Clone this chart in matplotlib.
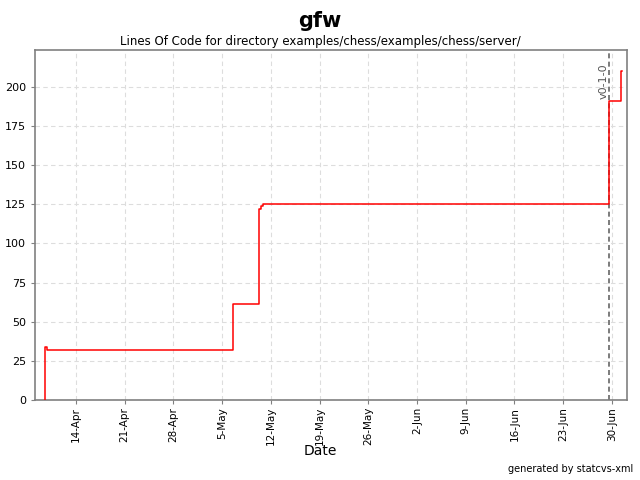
import matplotlib
matplotlib.use("Agg")
import matplotlib.pyplot as plt
from datetime import datetime, timedelta

dates = ["2003-04-09 13:00", "2003-04-09 20:00", "2003-05-06 12:00",
         "2003-05-10 07:00", "2003-05-10 14:00", "2003-05-10 20:00",
         "2003-06-29 14:00", "2003-07-01 08:00", "2003-07-01 12:00"]
loc = [34, 32, 61, 122, 124, 125, 191, 210, 210]
tag_name = "v0-1-0"
tag_date = "2003-06-29 14:00"

x = [datetime.strptime(d, "%Y-%m-%d %H:%M") for d in dates]

fig = plt.figure(figsize=(6.4, 4.8), dpi=100)
ax = fig.add_axes([0.0547, 0.1667, 0.9250, 0.7292])

ax.step([x[0]] + x, [0] + loc, where="post", color="red", lw=1.1, zorder=3)

tx = datetime.strptime(tag_date, "%Y-%m-%d %H:%M")
ax.axvline(tx, color="#666666", ls=(0, (3, 2)), lw=1.2, zorder=2)
ax.text(tx, 215, tag_name, rotation=90, ha="right", va="top", fontsize=8,
        color="#555555")

ax.set_xlim(datetime(2003, 4, 8, 3), datetime(2003, 7, 2, 4))
ax.set_ylim(0, 223.6)
ax.set_yticks([0, 25, 50, 75, 100, 125, 150, 175, 200])
ticks = [datetime(2003, 4, 14) + timedelta(days=7 * i) for i in range(12)]
ax.set_xticks(ticks)
ax.set_xticklabels([f"{t.day}-{t.strftime('%b')}" for t in ticks], rotation=90)

ax.grid(True, color="#dddddd", ls=(0, (4, 3)), lw=0.8)
ax.set_axisbelow(True)
for s in ax.spines.values():
    s.set_color("#808080")
    s.set_linewidth(1.2)
ax.tick_params(colors="#808080", labelcolor="black", labelsize=8, length=3)
ax.tick_params(axis="x", labelsize=7.5, pad=2)

fig.text(0.5, 0.0604, "Date", ha="center", va="center", fontsize=10)
fig.text(0.5, 0.957, "gfw", ha="center", va="center", fontsize=15, weight="bold")
fig.text(0.5, 0.913, "Lines Of Code for directory examples/chess/examples/chess/server/",
         ha="center", va="center", fontsize=8.5)
fig.text(0.99, 0.012, "generated by statcvs-xml", ha="right", va="bottom", fontsize=7)

fig.savefig("out.png", dpi=100)
